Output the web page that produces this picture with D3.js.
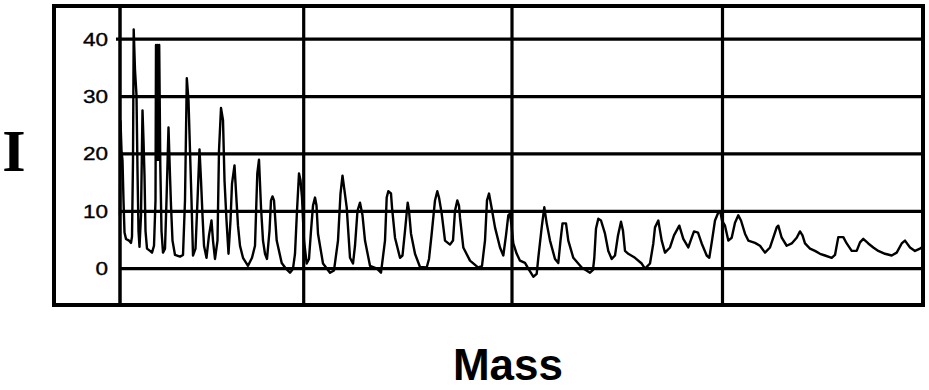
<!DOCTYPE html>
<html>
<head>
<meta charset="utf-8">
<script src="https://cdn.jsdelivr.net/npm/d3@7"></script>
<style>
  html, body { margin: 0; padding: 0; background: #fff; }
  svg { display: block; }
</style>
</head>
<body>
<script>
let width = 929;
let height = 390;

// plot frame
let frameLeft = 54;
let frameTop = 6;
let frameRight = 923;
let frameBottom = 305;
let plotLeft = 120;

// spectrum
const mass = [
    0, 0.5, 1.5, 2.5, 3.5, 4.5, 6, 9, 11, 12, 13, 13.7, 15, 16.5, 17.5, 18.5, 19.5, 21, 22.5, 23.5,
    24.5, 25.5, 27, 30, 32, 34, 35.5, 36, 36.8, 37.6, 38.4, 39.2, 40.3, 41.5, 43, 45, 46.5, 48.5, 50, 51, 52.5, 55, 60,
    63, 65, 66.8, 68.5, 70, 71.5, 73, 75.5, 77.5, 79.5, 81, 82.5, 84, 86.5, 89, 91.5, 93, 95, 97.5, 99,
    101, 103, 104.5, 106.5, 108.5, 110.5, 112, 114.5, 116.5, 118, 120, 123, 128, 132, 135, 137.3, 139, 141, 143, 145,
    147, 149.5, 151, 152.5, 154, 156.7, 161.7, 166, 170, 173, 175, 177, 179, 180.5, 182, 184, 186.7, 189, 191, 193,
    195, 196.5, 198, 203, 210, 214, 218, 220.5, 222.5, 224.5, 226.7, 230, 233, 235, 237.5, 240, 242.5, 245, 250, 257,
    261, 265, 266.7, 268.3, 271, 272, 275, 280, 282.5, 285, 287.7, 289, 291, 295, 300, 306.7, 309, 311.7, 315, 317.3,
    319, 321.7, 325, 330, 333, 335, 337.3, 339, 340, 343.3, 350, 358.3, 362, 365, 367, 369, 371.5, 375, 380, 383.3,
    386, 388.3, 390, 391.5, 393.3, 396.7, 400, 405, 408.3, 413.3, 416.7, 418.3, 421.7, 424.3, 426.7, 430, 435, 438.3, 440.5, 442.5,
    446, 448.3, 453.3, 461.7, 470, 473, 474.3, 476, 478.3, 481, 485, 488.3, 491.7, 495, 498, 501, 503, 505, 508.3, 515,
    521.7, 525, 530, 533.3, 535, 538.3, 541.7, 545, 550, 554, 559.3, 563.3, 568.3, 571.7, 574, 578, 581.7, 586.7, 589.3, 592,
    595, 598.3, 600.5, 602, 605, 608.3, 611.7, 615, 618.3, 621, 625, 628.3, 635, 640, 645, 650, 653.3, 656.7, 658.3, 661.7,
    666.7, 671.7, 676.7, 680, 682.5, 685, 690, 695, 700, 705, 711.7, 715, 718.3, 723.3, 726.7, 731.7, 736.7, 740, 743.3, 748.3,
    753.3, 758.3, 765, 771.7, 776.7, 781.7, 785, 790, 795, 800, 801.7
];
const intensity = [
    9.3, 25.7, 20.6, 18.9, 11.9, 6.3, 5.2, 4.9, 4.5, 5.6, 18.9, 41.7, 34.6, 30.2, 17.1, 6.6, 3.8, 9.3, 27.6, 22.4,
    16.2, 6.6, 3.5, 3.1, 2.8, 4.0, 11.9, 39.0, 19.0, 39.0, 19.0, 39.0, 18.0, 6.6, 2.8, 3.5, 11.9, 24.6, 16.2, 11.0, 4.9, 2.4, 2.1,
    2.4, 11.9, 33.2, 29.3, 20.6, 11.9, 2.3, 3.5, 11.9, 20.8, 15.4, 9.3, 4.0, 1.9, 5.8, 8.4, 4.9, 1.7, 4.9, 20.6,
    28.0, 25.9, 15.4, 8.4, 2.6, 8.4, 14.8, 18.0, 11.9, 7.5, 4.0, 1.9, 0.5, 1.9, 4.0, 16.6, 19.0, 10.7, 4.9, 2.6,
    1.7, 6.6, 11.9, 12.6, 11.9, 4.9, 1.0, 0, -0.7, 0, 2.6, 10.1, 16.6, 15.4, 12.4, 4.9, 0.9, 1.7, 6.6, 11.0,
    12.4, 11.0, 6.1, 0.9, -0.7, -0.3, 4.9, 13.1, 16.2, 13.6, 10.7, 1.9, 0.9, 4.0, 10.1, 11.5, 9.3, 4.9, 0.5, 0,
    -0.7, 4.9, 12.4, 13.5, 13.1, 10.7, 5.4, 1.9, 2.3, 6.6, 11.5, 10.1, 6.1, 2.6, 0.3, 0.2, 1.7, 6.1, 11.9, 13.5,
    12.4, 9.6, 4.9, 4.2, 4.9, 10.1, 11.9, 11.0, 8.9, 3.7, 1.4, 0.2, 0.5, 4.9, 11.9, 13.1, 10.7, 7.2, 3.7, 2.3,
    5.8, 9.3, 9.6, 7.5, 4.4, 2.6, 1.4, 1.0, 0, -1.4, -0.9, 1.9, 7.2, 10.7, 7.9, 4.9, 1.7, 1.0, 4.9, 7.9,
    7.9, 4.9, 1.9, 0.2, -0.7, -0.2, 1.9, 7.0, 8.7, 8.4, 6.1, 3.1, 1.7, 2.3, 5.8, 8.2, 6.6, 3.1, 2.6, 1.9,
    0.9, 0, 0.9, 4.4, 7.2, 8.4, 4.9, 2.8, 3.7, 5.8, 7.5, 5.2, 3.7, 5.4, 6.5, 6.3, 4.4, 2.3, 1.9, 4.9,
    8.4, 9.8, 9.8, 8.4, 7.5, 4.9, 5.4, 8.0, 9.3, 8.4, 6.1, 4.9, 4.5, 4.0, 2.8, 3.7, 5.4, 7.2, 7.5, 5.4,
    4.0, 4.4, 5.4, 6.5, 5.8, 4.4, 3.5, 3.1, 2.6, 2.3, 1.9, 2.4, 5.5, 5.5, 4.4, 3.1, 3.1, 4.6, 5.2, 4.4,
    3.7, 3.1, 2.6, 2.3, 2.8, 4.4, 4.9, 3.7, 3.1, 3.5, 3.7
];

const yTicks = [0, 10, 20, 30, 40];
const xGrid = [183.7, 392, 602.5];

const svg = d3.select("body")
    .append("svg")
    .attr("width", width)
    .attr("height", height);

const xScale = d3.scaleLinear()
    .domain([0, 803])
    .range([plotLeft, frameRight]);

const yScale = d3.scaleLinear()
    .domain([0, 40])
    .range([268.7, 39.2]);

// horizontal grid
svg.append("g")
    .selectAll("line")
    .data(yTicks)
    .join("line")
    .attr("x1", d => d === 40 ? plotLeft - 4 : plotLeft)
    .attr("x2", frameRight)
    .attr("y1", d => yScale(d))
    .attr("y2", d => yScale(d))
    .attr("stroke", "#000")
    .attr("stroke-width", 3.2);

// vertical grid
svg.append("g")
    .selectAll("line")
    .data(xGrid)
    .join("line")
    .attr("x1", d => xScale(d))
    .attr("x2", d => xScale(d))
    .attr("y1", frameTop)
    .attr("y2", frameBottom)
    .attr("stroke", "#000")
    .attr("stroke-width", 3.2);

// y axis line
svg.append("line")
    .attr("x1", xScale(0))
    .attr("x2", xScale(0))
    .attr("y1", frameTop)
    .attr("y2", frameBottom)
    .attr("stroke", "#000")
    .attr("stroke-width", 3.5);

// tick labels
svg.append("g")
    .selectAll("text")
    .data(yTicks)
    .join("text")
    .attr("transform", d => "translate(108," + (yScale(d) + 6.5) + ") scale(1.22,1)")
    .attr("text-anchor", "end")
    .attr("font-family", "Liberation Sans, Arial, sans-serif")
    .attr("font-size", "18.5px")
    .attr("fill", "#000")
    .attr("stroke", "#000")
    .attr("stroke-width", 0.35)
    .text(d => d);

const line = d3.line()
    .x((d, i) => xScale(mass[i]))
    .y((d) => yScale(d));

svg.append("path")
    .datum(intensity)
    .attr("fill", "none")
    .attr("stroke", "#000")
    .attr("stroke-width", 2.4)
    .attr("stroke-linejoin", "round")
    .attr("d", line);

// outer frame
svg.append("rect")
    .attr("x", frameLeft)
    .attr("y", frameTop)
    .attr("width", frameRight - frameLeft)
    .attr("height", frameBottom - frameTop)
    .attr("fill", "none")
    .attr("stroke", "#000")
    .attr("stroke-width", 4);

svg.append("text")
    .attr("x", 14)
    .attr("y", 171)
    .attr("text-anchor", "middle")
    .attr("font-family", "Liberation Serif, Times New Roman, serif")
    .attr("font-weight", "bold")
    .attr("font-size", "60px")
    .text("I");

svg.append("text")
    .attr("x", 508)
    .attr("y", 380)
    .attr("text-anchor", "middle")
    .attr("font-family", "Liberation Sans, Arial, sans-serif")
    .attr("font-weight", "bold")
    .attr("font-size", "44px")
    .text("Mass");
</script>
</body>
</html>
